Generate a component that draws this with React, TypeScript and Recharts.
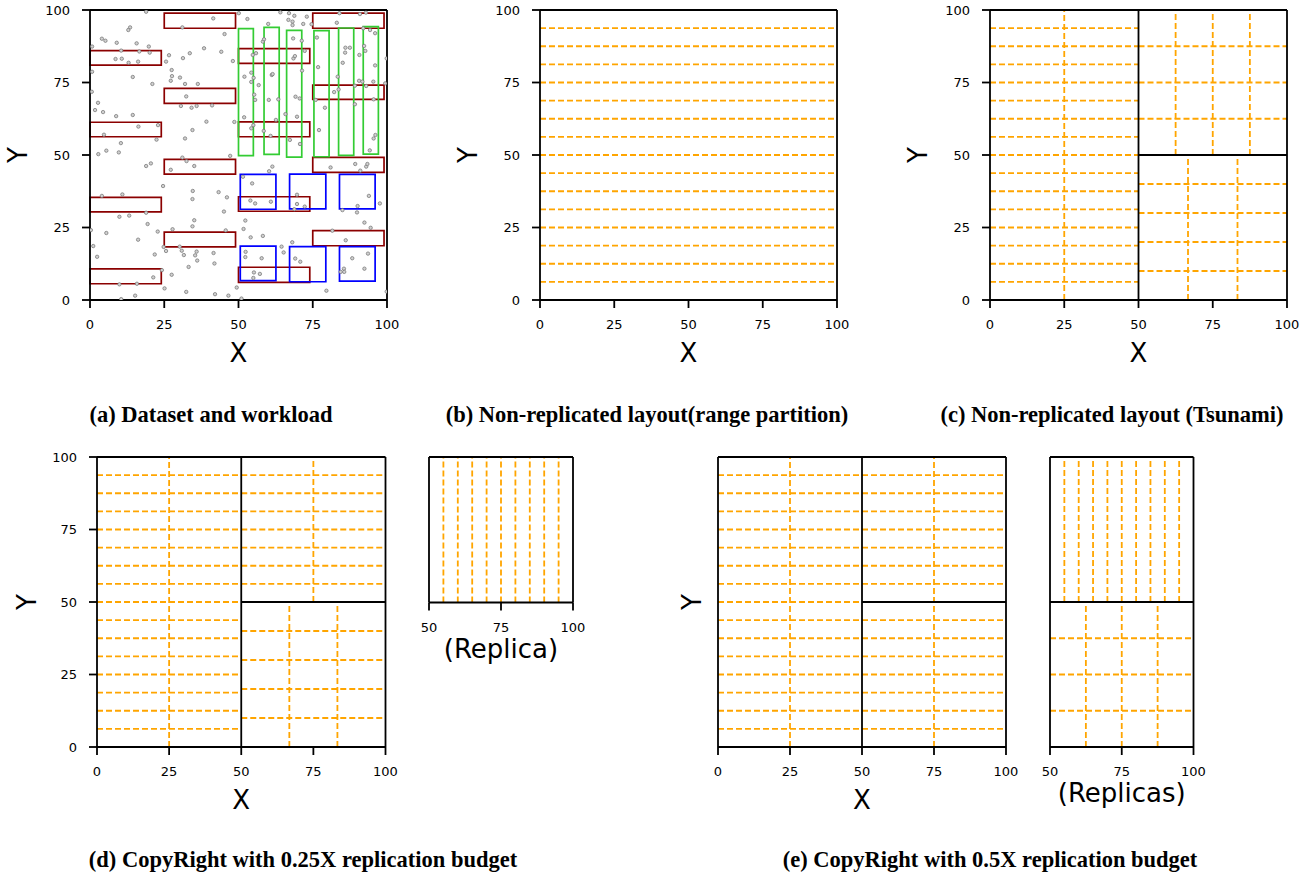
import React from "react";
import {
  ScatterChart,
  Scatter,
  XAxis,
  YAxis,
  ReferenceLine,
  ReferenceArea,
} from "recharts";

// tick labels
const fullTicks = [0, 25, 50, 75, 100];
const halfTicks = [50, 75, 100];

// (a) dataset points
const points: [number, number][] = [
  [18.9, 99.4], [41.5, 97.1], [31.1, 94], [50.1, 98.9], [53, 96.9], [64.1, 99.2], [67, 98.9], [68.8, 98],
  [66.8, 96.6], [68.2, 96], [68.2, 94.8], [60, 95.2], [71.8, 95.2], [73, 97.7], [74.6, 95.1], [84, 98.9],
  [83.1, 95.6], [90.9, 98.6], [92.9, 99.1], [92, 93.7], [94.3, 93.1], [96, 92], [13.5, 94], [12.9, 93.1],
  [4, 90.1], [5.2, 89.4], [9, 88.7], [15.7, 88.5], [19.8, 87.4], [0.7, 87.4], [10.5, 86], [16.6, 85.7],
  [20.1, 85.3], [8.6, 83.1], [10.7, 83.2], [13, 81.8], [16.2, 82.2], [45.3, 91.7], [38.4, 86.8], [44.2, 85.6],
  [33.6, 85.1], [31.3, 83.4], [26.6, 84.4], [25.6, 82.2], [48.1, 82.4], [27.5, 79.3], [27.6, 77.2], [30.3, 76.7],
  [27.2, 75.6], [32, 74.5], [36.3, 74.5], [21, 74.5], [14.4, 76.9], [0.7, 78.7], [0.6, 71.8], [2.7, 68],
  [1.7, 65.5], [4.4, 64.8], [8.8, 63.4], [14.4, 63.8], [32.4, 70.2], [30.6, 66.9], [34.2, 66.3], [35.9, 66.9],
  [41.1, 67.1], [39.2, 61.5], [34.5, 58.6], [32, 55.7], [48.6, 61.4], [51.9, 63], [55, 60.3], [54.3, 59.2],
  [58.5, 58.3], [60.8, 56.6], [62.6, 62.1], [65.8, 64.1], [67.3, 55.2], [69.7, 63.2], [70.7, 53.8], [69.2, 70.1],
  [70.6, 69.5], [60.2, 69], [63.4, 69.2], [55.3, 70.8], [55.6, 69], [56.8, 74.1], [52, 77], [54.3, 78.4],
  [55.1, 76.6], [54.3, 75.2], [58.2, 89.1], [58.6, 89.9], [54.8, 84.5], [55.9, 85.1], [61.2, 77.6], [61.5, 77.9],
  [68.5, 83.3], [69, 84.1], [72.3, 85.9], [71.4, 79.1], [68.4, 90.2], [71.3, 89.4], [76.4, 90.5], [76.8, 80.3],
  [79.1, 66.3], [77.1, 58.6], [85.1, 81.8], [85.9, 85.3], [87.5, 87], [86, 87], [90.7, 84.5], [92.3, 87.6],
  [92.7, 85.9], [96, 80.9], [83.4, 77], [83.7, 72.6], [82.2, 71.7], [89.2, 73.9], [90.6, 75.6], [91.7, 75.3],
  [93, 73.8], [95.4, 75.3], [99.4, 74.7], [89.2, 67.5], [95.5, 69.2], [76, 69], [99.9, 83.3], [96.1, 56.9],
  [95.5, 55.7], [94.2, 51.6], [16.3, 59.8], [22.9, 60.3], [4.7, 57], [22.4, 55.3], [10.4, 54.1], [2.8, 50.3],
  [5.5, 51.5], [9.7, 50.9], [31.1, 49.1], [47.2, 49.7],
  [18.9, 46.2], [20.5, 47.1], [32.5, 47.9], [35.1, 46.2], [27.2, 44.9], [61.4, 46], [60.3, 44.4], [24.6, 39.3],
  [34.6, 37.6], [34.5, 34.8], [43.3, 37.2], [46.1, 35.4], [45.1, 30.5], [51.5, 42.5], [54.6, 40.2], [54, 34.3],
  [55.6, 33.3], [60.9, 33.9], [69.7, 36.3], [69.7, 33.1], [72.3, 32.2], [68.8, 31.3], [81, 45.7], [89.3, 46.9],
  [93, 46], [93.4, 46.9], [91, 44.6], [93.9, 35.9], [97.6, 33.3], [90.1, 32.4], [89.9, 30.2], [85, 31],
  [4, 35.9], [10.9, 36.4], [18.9, 30.1], [9.9, 28.7], [13.2, 29.1], [19.4, 26.2], [22.8, 23.6], [27.8, 24.4],
  [35.1, 27.5], [34.5, 25.4], [45.7, 24], [52.3, 27.4], [51.7, 24.5], [54.1, 21.6], [58.2, 22.1], [68.1, 19.9],
  [64.5, 18.4], [65.2, 16.4], [69.1, 14.3], [70.8, 13.2], [81.6, 23.9], [86.1, 20.6], [92.4, 26.7], [94.5, 24.9],
  [0.3, 24.1], [5.5, 23.1], [16.2, 20.8], [1.1, 18.6], [2.4, 14.9], [24.8, 18.3], [25.6, 16.9], [30.2, 18.4],
  [30.9, 17], [31.6, 15.5], [35.9, 16.7], [35.4, 15.4], [36.1, 13.6], [41.6, 16.2], [41.9, 12.6], [33.2, 11.4],
  [27.5, 8.7], [21.8, 15.7], [24.2, 10.3], [21.3, 7.8], [52.4, 16.6], [52.3, 14.8], [57.8, 14.4], [55.2, 9.5],
  [57.2, 9], [55, 7.6], [49.4, 4.3], [51, 0.5], [46.6, 1.5], [42.1, 2], [32.4, 2.8], [25.1, 4],
  [15.8, 5.6], [9.9, 5.4], [15.2, 1.5], [10.5, 0.3], [79.6, 3.2], [88.3, 14.4], [93.6, 16], [92.4, 10.8],
  [85.5, 10.8], [84.4, 9.7], [85.6, 9.7], [99.9, 2.9],
];

// (a) query workload: [x1, x2, y1, y2]
const redQueries = [
  [0, 24, 81, 86], [0, 24, 56.3, 61.3], [0, 24, 30.4, 35.4], [0, 24, 5.6, 10.7],
  [25, 49, 93.7, 98.9], [25, 49, 67.8, 73], [25, 49, 43.4, 48.5], [25, 49, 18.3, 23.4],
  [50, 74, 81.6, 86.7], [50, 74, 56.3, 61.4], [50, 74, 30.6, 35.6], [50, 74, 6.1, 11.3],
  [75, 99, 93.7, 98.9], [75, 99, 69.2, 74.1], [75, 99, 44, 49.2], [75, 99, 18.7, 23.9],
];
const greenQueries = [
  [50, 55, 49.8, 93.6], [58.6, 63.7, 50.2, 94], [66.2, 71.3, 49.3, 93],
  [75.4, 80.5, 49.4, 92.9], [83.7, 88.8, 49.9, 93.8], [92, 97.1, 50.3, 94.3],
];
const blueQueries = [
  [50.6, 62.6, 31.3, 43.3], [67.2, 79.4, 31.4, 43.4], [84, 96, 31.4, 43.3],
  [50.6, 62.6, 6.7, 18.6], [67.2, 79.4, 6.3, 18.4], [84, 96, 6.5, 18.4],
];

// partition boundaries
const rangeRows = [6.25, 12.5, 18.75, 25, 31.25, 37.5, 43.75, 50, 56.25, 62.5, 68.75, 75, 81.25, 87.5, 93.75];
const upperRows = [56.25, 62.5, 68.75, 75, 81.25, 87.5, 93.75];
const tsunamiUpper = [62.5, 75, 87.5];
const lowerRows = [10, 20, 30, 40];
const lowerCols = [66.67, 83.33];
const replicaCols = [55, 60, 65, 70, 75, 80, 85, 90, 95];
const replicasLowerRows = [12.5, 25, 37.5];
const replicasLowerCols = [62.5, 75, 87.5];

type Seg = [number, number, number, number];

const ORANGE = "#FFA500";
const FONT = "DejaVu Sans, sans-serif";
const YW = 90;
const XH = 80;
const MR = 22;

const hLines = (ys: number[], x1: number, x2: number): Seg[] => ys.map((y) => [x1, y, x2, y]);
const vLines = (xs: number[], y1: number, y2: number): Seg[] => xs.map((x) => [x, y1, x, y2]);

function XTitle(props: any) {
  const { viewBox, value, gap } = props;
  const cx = viewBox.x + viewBox.width / 2;
  return (
    <text x={cx} y={viewBox.y + gap} textAnchor="middle" dominantBaseline="central" fontSize={26} fontFamily={FONT} fill="#000">
      {value}
    </text>
  );
}

function YTitle(props: any) {
  const { viewBox, value, gap } = props;
  const x = viewBox.x + viewBox.width - gap;
  const cy = viewBox.y + viewBox.height / 2;
  return (
    <text x={x} y={cy} transform={`rotate(-90 ${x} ${cy})`} textAnchor="middle" dominantBaseline="central" fontSize={26} fontFamily={FONT} fill="#000">
      {value}
    </text>
  );
}

const Dot = (p: any) => <circle cx={p.cx} cy={p.cy} r={1.7} fill="#d0d0d0" stroke="#707070" strokeWidth={0.7} />;

interface PanelProps {
  left: number;
  top: number;
  w: number;
  h: number;
  xDomain: [number, number];
  yDomain: [number, number];
  xTicks: number[];
  yTicks?: number[];
  xTitle: string;
  xGap: number;
  yTitle?: string;
  yGap?: number;
  dashed: Seg[];
  solid: Seg[];
  children?: React.ReactNode;
}

function Panel(props: PanelProps) {
  const { left, top, w, h, xDomain, yDomain, xTicks, yTicks, xTitle, xGap, yTitle, yGap, dashed, solid } = props;
  const [x0, x1] = xDomain;
  const [y0, y1] = yDomain;
  const frame: Seg[] = [
    [x0, y1, x1, y1],
    [x1, y0, x1, y1],
  ];
  return (
    <div style={{ position: "absolute", left: left - YW, top: top - 10 }}>
      <ScatterChart width={w + YW + MR} height={h + 10 + XH} margin={{ top: 10, right: MR, left: 0, bottom: 0 }}>
        <XAxis
          type="number"
          dataKey="x"
          domain={xDomain}
          ticks={xTicks}
          allowDataOverflow
          interval={0}
          height={XH}
          tickSize={8}
          tickMargin={12}
          tick={{ fill: "#000", fontSize: 13, fontFamily: FONT }}
          tickLine={{ stroke: "#000", strokeWidth: 1.8 }}
          axisLine={{ stroke: "#000", strokeWidth: 1.8 }}
          label={{ value: xTitle, content: <XTitle gap={xGap} /> }}
        />
        <YAxis
          type="number"
          dataKey="y"
          domain={yDomain}
          ticks={yTicks ?? []}
          allowDataOverflow
          interval={0}
          width={YW}
          tickSize={8}
          tickMargin={12}
          tick={yTicks ? { fill: "#000", fontSize: 13, fontFamily: FONT } : false}
          tickLine={yTicks ? { stroke: "#000", strokeWidth: 1.8 } : false}
          axisLine={{ stroke: "#000", strokeWidth: 1.8 }}
          label={yTitle ? { value: yTitle, content: <YTitle gap={yGap} /> } : undefined}
        />
        {props.children}
        {dashed.map((s, i) => (
          <ReferenceLine
            key={`d${i}`}
            segment={[{ x: s[0], y: s[1] }, { x: s[2], y: s[3] }]}
            stroke={ORANGE}
            strokeWidth={1.8}
            strokeDasharray="6 3"
          />
        ))}
        {[...solid, ...frame].map((s, i) => (
          <ReferenceLine
            key={`s${i}`}
            segment={[{ x: s[0], y: s[1] }, { x: s[2], y: s[3] }]}
            stroke="#000"
            strokeWidth={1.8}
          />
        ))}
      </ScatterChart>
    </div>
  );
}

const captionStyle: React.CSSProperties = {
  position: "absolute",
  transform: "translate(-50%, -50%)",
  whiteSpace: "nowrap",
  fontFamily: "Liberation Serif, serif",
  fontWeight: "bold",
  fontSize: 22.5,
  color: "#000",
};

const quadSolid: Seg[] = [
  [50, 0, 50, 100],
  [50, 50, 100, 50],
];

export default function App() {
  const scatterData = points.map(([x, y]) => ({ x, y }));
  const rect = (q: number[], color: string, i: number, k: string) => (
    <ReferenceArea key={`${k}${i}`} x1={q[0]} x2={q[1]} y1={q[2]} y2={q[3]} fill="none" fillOpacity={0} stroke={color} strokeWidth={1.7} />
  );

  return (
    <div style={{ position: "absolute", left: 0, top: 0, width: 1309, height: 877, background: "#fff", overflow: "hidden" }}>
      {/* (a) */}
      <Panel
        left={90} top={10} w={297} h={290}
        xDomain={[0, 100]} yDomain={[0, 100]} xTicks={fullTicks} yTicks={fullTicks}
        xTitle="X" xGap={53} yTitle="Y" yGap={72}
        dashed={[]} solid={[]}
      >
        <Scatter data={scatterData} shape={Dot} isAnimationActive={false} />
        {redQueries.map((q, i) => rect(q, "#8B0000", i, "r"))}
        {greenQueries.map((q, i) => rect(q, "#33CC33", i, "g"))}
        {blueQueries.map((q, i) => rect(q, "#0000FF", i, "b"))}
      </Panel>

      {/* (b) */}
      <Panel
        left={540} top={10} w={297} h={290}
        xDomain={[0, 100]} yDomain={[0, 100]} xTicks={fullTicks} yTicks={fullTicks}
        xTitle="X" xGap={53} yTitle="Y" yGap={72}
        dashed={hLines(rangeRows, 0, 100)} solid={[]}
      />

      {/* (c) */}
      <Panel
        left={990} top={10} w={297} h={290}
        xDomain={[0, 100]} yDomain={[0, 100]} xTicks={fullTicks} yTicks={fullTicks}
        xTitle="X" xGap={53} yTitle="Y" yGap={72}
        dashed={[
          ...hLines(rangeRows, 0, 50),
          ...vLines([25], 0, 100),
          ...hLines(tsunamiUpper, 50, 100),
          ...vLines(tsunamiUpper, 50, 100),
          ...hLines(lowerRows, 50, 100),
          ...vLines(lowerCols, 0, 50),
        ]}
        solid={quadSolid}
      />

      {/* (d) */}
      <Panel
        left={96.5} top={456.5} w={288.5} h={290}
        xDomain={[0, 100]} yDomain={[0, 100]} xTicks={fullTicks} yTicks={fullTicks}
        xTitle="X" xGap={53} yTitle="Y" yGap={70}
        dashed={[
          ...hLines(rangeRows, 0, 50),
          ...hLines(upperRows, 50, 100),
          ...vLines([25], 0, 100),
          ...vLines([75], 50, 100),
          ...hLines(lowerRows, 50, 100),
          ...vLines(lowerCols, 0, 50),
        ]}
        solid={quadSolid}
      />
      <Panel
        left={428.5} top={456.5} w={144} h={145.5}
        xDomain={[50, 100]} yDomain={[50, 100]} xTicks={halfTicks}
        xTitle="(Replica)" xGap={46}
        dashed={vLines(replicaCols, 50, 100)} solid={[]}
      />

      {/* (e) */}
      <Panel
        left={717.5} top={456.5} w={288} h={290}
        xDomain={[0, 100]} yDomain={[0, 100]} xTicks={fullTicks}
        xTitle="X" xGap={53} yTitle="Y" yGap={26}
        dashed={[...hLines(rangeRows, 0, 100), ...vLines([25, 75], 0, 100)]}
        solid={quadSolid}
      />
      <Panel
        left={1049.5} top={456.5} w={143.5} h={290}
        xDomain={[50, 100]} yDomain={[0, 100]} xTicks={halfTicks}
        xTitle="(Replicas)" xGap={46}
        dashed={[
          ...vLines(replicaCols, 50, 100),
          ...hLines(replicasLowerRows, 50, 100),
          ...vLines(replicasLowerCols, 0, 50),
        ]}
        solid={[[50, 50, 100, 50]]}
      />

      <div style={{ ...captionStyle, left: 211, top: 415 }}>(a) Dataset and workload</div>
      <div style={{ ...captionStyle, left: 647, top: 415 }}>(b) Non-replicated layout(range partition)</div>
      <div style={{ ...captionStyle, left: 1112, top: 415 }}>(c) Non-replicated layout (Tsunami)</div>
      <div style={{ ...captionStyle, left: 303, top: 860 }}>(d) CopyRight with 0.25X replication budget</div>
      <div style={{ ...captionStyle, left: 990, top: 860 }}>(e) CopyRight with 0.5X replication budget</div>
    </div>
  );
}
